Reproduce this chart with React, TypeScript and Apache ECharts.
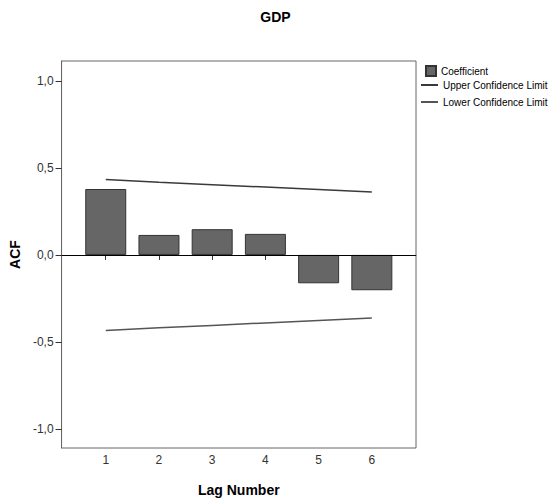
import React, { useEffect, useRef } from "react";
import * as echarts from "echarts";

const lags = [1, 2, 3, 4, 5, 6];
const coefficient = [0.379, 0.115, 0.148, 0.121, -0.163, -0.203];
const upperLimit = [0.433, 0.418, 0.404, 0.39, 0.376, 0.362];
const lowerLimit = [-0.434, -0.419, -0.405, -0.391, -0.377, -0.363];
const yTicks = [-1, -0.5, 0, 0.5, 1];
const xTicks = [1, 2, 3, 4, 5, 6];

const FONT = "'Liberation Sans', Arial, sans-serif";
const NARROW = "'Liberation Sans Narrow', 'Liberation Sans', Arial, sans-serif";

export default function App() {
  const ref = useRef<HTMLDivElement>(null);
  useEffect(() => {
    if (!ref.current) return;
    const chart = echarts.init(ref.current, undefined, { renderer: "svg" });
    const fmtY = (v: number) => {
      if (Math.abs(v * 2 - Math.round(v * 2)) > 1e-6) return "";
      return v.toFixed(1).replace(".", ",");
    };
    const fmtX = (v: number) => (Math.abs(v - Math.round(v)) > 1e-6 ? "" : String(Math.round(v)));
    chart.setOption({
      animation: false,
      backgroundColor: "#ffffff",
      title: {
        text: "GDP",
        left: "center",
        top: 5,
        textStyle: { fontFamily: FONT, fontSize: 14, fontWeight: "bold", color: "#000" },
      },
      legend: [
        {
          data: ["Coefficient"],
          orient: "vertical",
          left: 425,
          top: 65,
          padding: 0,
          itemWidth: 10,
          itemHeight: 10,
          icon: "rect",
          textStyle: { fontFamily: FONT, fontSize: 10, color: "#000" },
        },
        {
          data: ["Upper Confidence Limit", "Lower Confidence Limit"],
          orient: "vertical",
          left: 421,
          top: 80,
          padding: 0,
          icon: "rect",
          itemWidth: 17,
          itemHeight: 2,
          itemGap: 7,
          textStyle: { fontFamily: FONT, fontSize: 10, color: "#000" },
        },
      ],
      grid: {
        left: 55,
        right: 135,
        top: 61,
        bottom: 56,
        show: true,
        borderColor: "#666",
        borderWidth: 1,
        backgroundColor: "transparent",
      },
      xAxis: {
        type: "value",
        min: 0.17,
        max: 6.83,
        name: "Lag Number",
        nameLocation: "middle",
        nameGap: 35,
        nameTextStyle: { fontFamily: FONT, fontSize: 14, fontWeight: "bold", color: "#000" },
        axisLine: { show: true, lineStyle: { color: "#666", width: 1 } },
        axisTick: { show: true, length: 5, lineStyle: { color: "#333" }, customValues: xTicks },
        axisLabel: {
          fontFamily: NARROW,
          fontSize: 12,
          color: "#333333",
          margin: 6,
          formatter: fmtX,
          customValues: xTicks,
        },
        splitLine: { show: false },
      },
      yAxis: {
        type: "value",
        min: -1.11,
        max: 1.115,
        name: "ACF",
        nameLocation: "middle",
        nameGap: 30,
        nameTextStyle: { fontFamily: FONT, fontSize: 14, fontWeight: "bold", color: "#000" },
        axisLine: { show: true, onZero: false, lineStyle: { color: "#666", width: 1 } },
        axisTick: { show: true, length: 6, lineStyle: { color: "#333" }, customValues: yTicks },
        axisLabel: {
          fontFamily: NARROW,
          fontSize: 12,
          color: "#333333",
          margin: 8,
          formatter: fmtY,
          customValues: yTicks,
        },
        splitLine: { show: false },
      },
      series: [
        {
          name: "Coefficient",
          type: "bar",
          barWidth: 41,
          data: lags.map((l, i) => [l, coefficient[i]]),
          itemStyle: { color: "#666666", borderColor: "#333", borderWidth: 1 },
          markLine: {
            silent: true,
            symbol: "none",
            label: { show: false },
            lineStyle: { color: "#000", width: 1, type: "solid" },
            data: [{ yAxis: 0 }],
          },
        },
        {
          name: "Upper Confidence Limit",
          type: "line",
          symbol: "none",
          data: lags.map((l, i) => [l, upperLimit[i]]),
          lineStyle: { color: "#3a3a3a", width: 1.5 },
          itemStyle: { color: "#3a3a3a" },
        },
        {
          name: "Lower Confidence Limit",
          type: "line",
          symbol: "none",
          data: lags.map((l, i) => [l, lowerLimit[i]]),
          lineStyle: { color: "#555", width: 1.5 },
          itemStyle: { color: "#555" },
        },
      ],
    });
    return () => chart.dispose();
  }, []);
  return (
    <div
      ref={ref}
      style={{ position: "fixed", left: 0, top: 0, width: 551, height: 504, background: "#fff" }}
    />
  );
}
